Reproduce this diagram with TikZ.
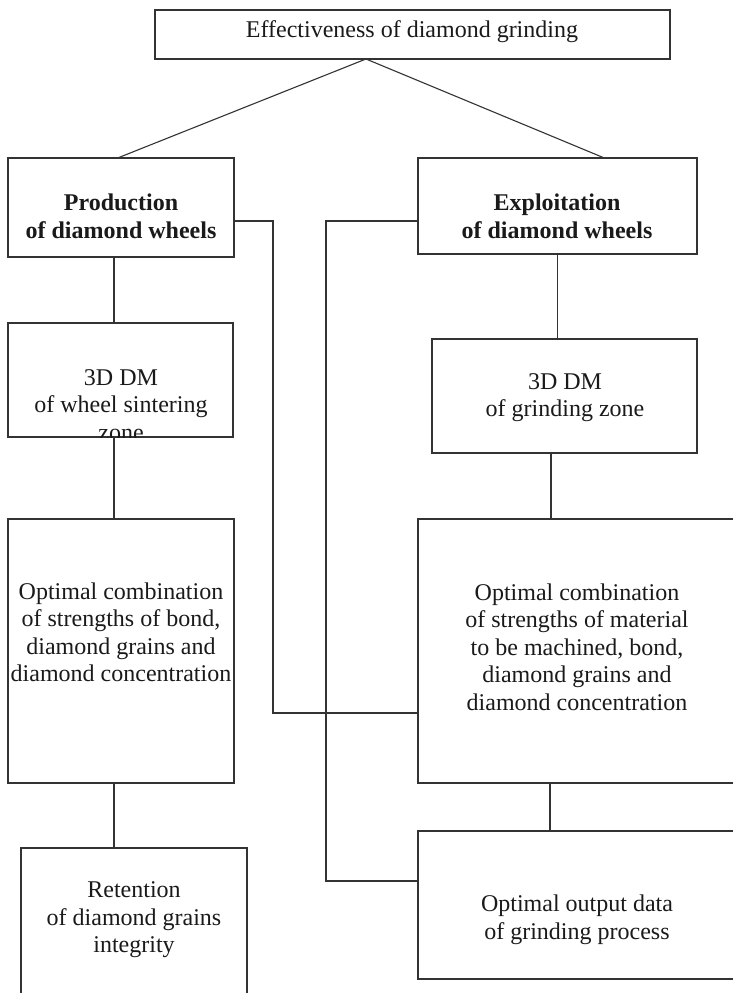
\documentclass[tikz,border=0pt]{standalone}
\usepackage{fontspec}
\setmainfont{Liberation Serif}
\usetikzlibrary{calc}
\definecolor{ln}{HTML}{333333}
\definecolor{tx}{HTML}{1A1A1A}
\tikzset{
  box/.style={draw=ln, line width=1.1pt, inner sep=0pt, rectangle},
  txt/.style={align=center, inner sep=0pt, text=tx, font=\fontsize{24}{27.5}\selectfont},
  btxt/.style={txt, font=\fontsize{24}{28}\selectfont\bfseries},
  conn/.style={draw=ln, line width=1.1pt}
}
\begin{document}
\begin{tikzpicture}[x=1pt,y=-1pt]
\fill[white] (0,0) rectangle (733,993);
\useasboundingbox (0,0) rectangle (733,993);

% boxes
\node[box, minimum width=515pt, minimum height=49pt] (top) at (412.5,34.5) {};
\node[box, minimum width=226pt, minimum height=99pt] (prod) at (121,207.5) {};
\node[box, minimum width=279pt, minimum height=96pt] (expl) at (557.5,206) {};
\node[box, minimum width=225pt, minimum height=114pt] (dmA) at (120.5,380) {};
\node[box, minimum width=265pt, minimum height=114pt] (dmB) at (564.5,396) {};
\node[box, minimum width=226pt, minimum height=264pt] (optA) at (121,651) {};
\node[box, minimum width=318pt, minimum height=264pt] (optB) at (577,651) {};
\node[box, minimum width=226pt, minimum height=157pt] (ret) at (134,926.5) {};
\node[box, minimum width=318pt, minimum height=148pt] (out) at (577,905) {};

% texts
\node[txt] (topT) at (412,32) {Effectiveness of diamond grinding};
\node[btxt] (prodT) at (121,216) {Production\\of diamond wheels};
\node[btxt] (explT) at (557,216) {Exploitation\\of diamond wheels};
\begin{scope}
\clip (dmA.south west) rectangle (dmA.north east);
\node[txt] (dmAT) at (121,405) {3D DM\\of wheel sintering\\zone};
\end{scope}
\node[txt] (dmBT) at (565,397.5) {3D DM\\of grinding zone};
\node[txt] (optAT) at (121,632.5) {Optimal combination\\of strengths of bond,\\diamond grains and\\diamond concentration};
\node[txt] (optBT) at (577,647) {Optimal combination\\of strengths of material\\to be machined, bond,\\diamond grains and\\diamond concentration};
\node[txt] (retT) at (134,920) {Retention\\of diamond grains\\integrity};
\node[txt] (outT) at (577,920) {Optimal output data\\of grinding process};

% connectors
\coordinate (apex) at (366,59);
\draw[conn] (apex) -- (prod.north -| 119,0);
\draw[conn] (apex) -- (expl.north -| 603,0);
\draw[conn] (prod.south -| 114,0) -- (dmA.north -| 114,0);
\draw[conn] (dmA.south -| 114,0) -- (optA.north -| 114,0);
\draw[conn] (optA.south -| 114,0) -- (ret.north -| 114,0);
\draw[conn] (expl.south) -- (dmB.north -| expl.south);
\draw[conn] (dmB.south -| 551,0) -- (optB.north -| 551,0);
\draw[conn] (optB.south -| 550,0) -- (out.north -| 550,0);
\coordinate (jL) at (273,713);
\coordinate (jR) at (326,881);
\draw[conn] (prod.east |- 0,221) -| (jL) -- (jL -| optB.west);
\draw[conn] (expl.west |- 0,221) -| (jR) -- (jR -| out.west);
\end{tikzpicture}
\end{document}
